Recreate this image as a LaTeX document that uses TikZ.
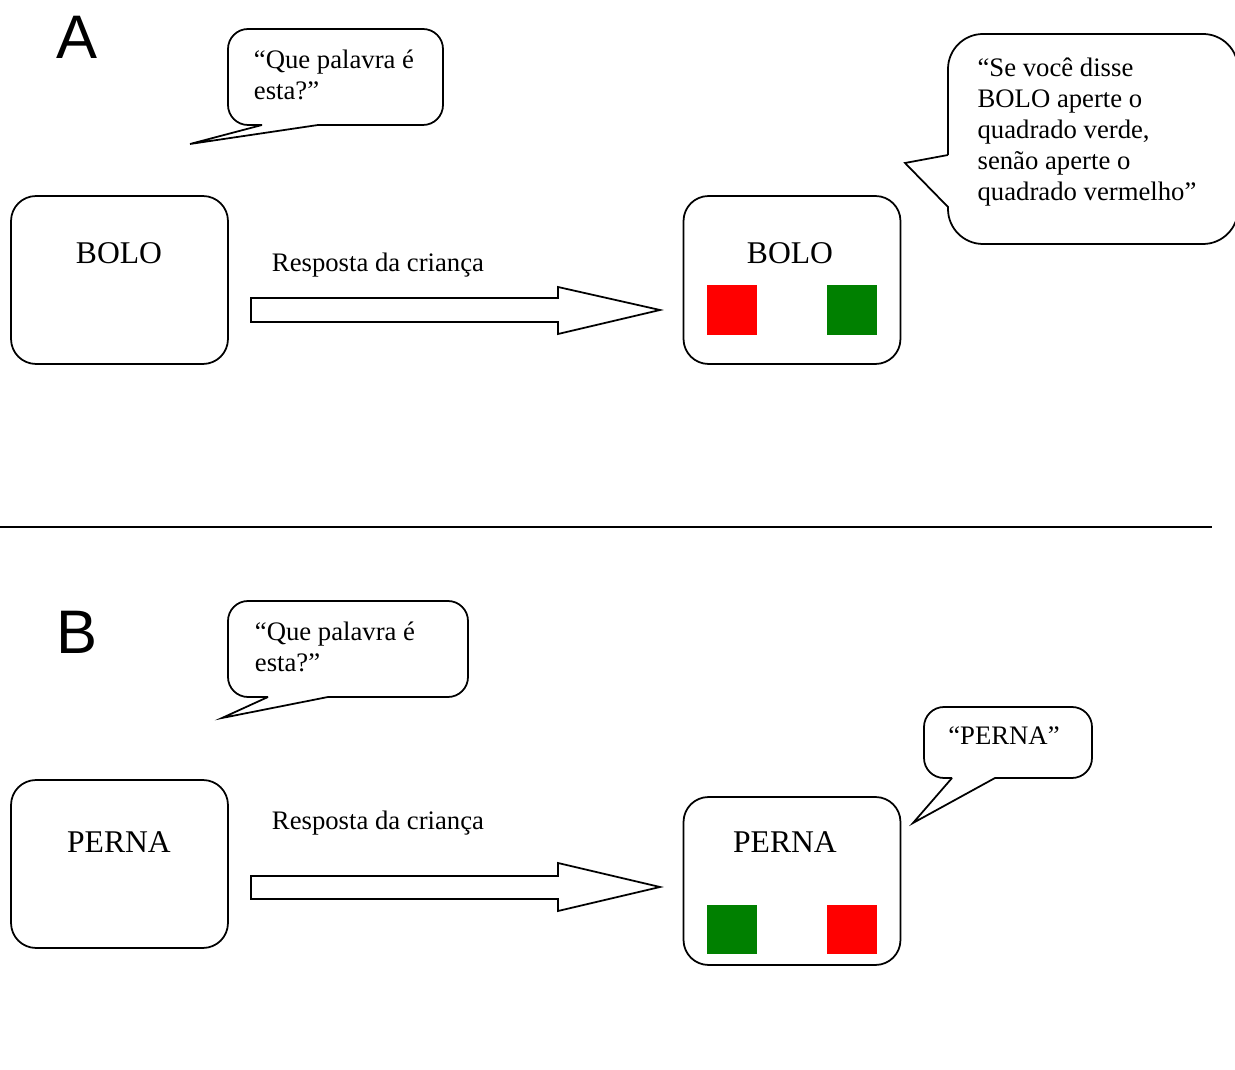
\documentclass[tikz,border=0pt]{standalone}
\usepackage{fontspec}
\setmainfont{Liberation Serif}
\newfontfamily\panelfont{Liberation Sans}
\definecolor{sqgreen}{RGB}{0,128,0}
\definecolor{sqred}{RGB}{255,0,0}

\begin{document}
\begin{tikzpicture}[x=0.02cm,y=-0.02cm,line width=1pt,
    box/.style={draw,rounded corners=0.5cm,minimum width=4.34cm,minimum height=3.36cm},
    word/.style={font=\fontsize{18}{21}\selectfont},
    speech/.style={align=left,inner sep=0pt,font=\fontsize{15.2}{17.6}\selectfont},
    panel/.style={font=\panelfont\fontsize{35}{40}\selectfont},
    sq/.style={minimum size=1cm,inner sep=0pt}]
    \useasboundingbox (0,0) rectangle (1235,1070);
    % panel A
    \node[panel] (labA) at (77,37) {A};
    \draw (262,125) -- (190,144) -- (318,125) [rounded corners=0.4cm] -- (443,125) -- (443,29) -- (228,29) -- (228,125) -- (262,125);
    \node[speech] (askA) at (334,74.5) {“Que palavra é\\esta?”};
    %
    \node[box] (cardA) at (119.5,280) {};
    \node[word] (wordA) at (119,253) {BOLO};
    \node[speech] (respA) at (378,265) {Resposta da criança};
    \draw (251,298) -- (558,298) -- (558,287) -- (660,310) -- (558,334) -- (558,322) -- (251,322) -- cycle;
    %
    \node[box] (screenA) at (792,280) {};
    \node[word] (shownA) at (790,253) {BOLO};
    \node[sq,fill=sqred] (redA) at (732,310.5) {};
    \node[sq,fill=sqgreen] (greenA) at (852,310.5) {};
    \draw (948,155) -- (905,163) -- (948,207) [rounded corners=0.7cm] -- (948,244) -- (1238,244) -- (1238,34) -- (948,34) -- (948,155);
    \node[speech] (ruleA) at (1087,132) {“Se você disse\\BOLO aperte o\\quadrado verde,\\senão aperte o\\quadrado vermelho”};
    %
    \draw (0,527) -- (1212,527);
    % panel B
    \node[panel] (labB) at (77,632) {B};
    \draw (268,697) -- (222,718) -- (328,697) [rounded corners=0.4cm] -- (468,697) -- (468,601) -- (228,601) -- (228,697) -- (268,697);
    \node[speech] (askB) at (335,646.5) {“Que palavra é\\esta?”};
    %
    \node[box] (cardB) at (119.5,864) {};
    \node[word] (wordB) at (119,842) {PERNA};
    \node[speech] (respB) at (378,823) {Resposta da criança};
    \draw (251,876) -- (558,876) -- (558,863) -- (660,887) -- (558,911) -- (558,899) -- (251,899) -- cycle;
    %
    \node[box] (screenB) at (792,881) {};
    \node[word] (shownB) at (785,842) {PERNA};
    \node[sq,fill=sqgreen] (greenB) at (732,929.5) {};
    \node[sq,fill=sqred] (redB) at (852,929.5) {};
    \draw (952,778) -- (913,823) -- (995,778) [rounded corners=0.4cm] -- (1092,778) -- (1092,707) -- (924,707) -- (924,778) -- (952,778);
    \node[speech] (sayB) at (1004,736) {“PERNA”};
\end{tikzpicture}
\end{document}
